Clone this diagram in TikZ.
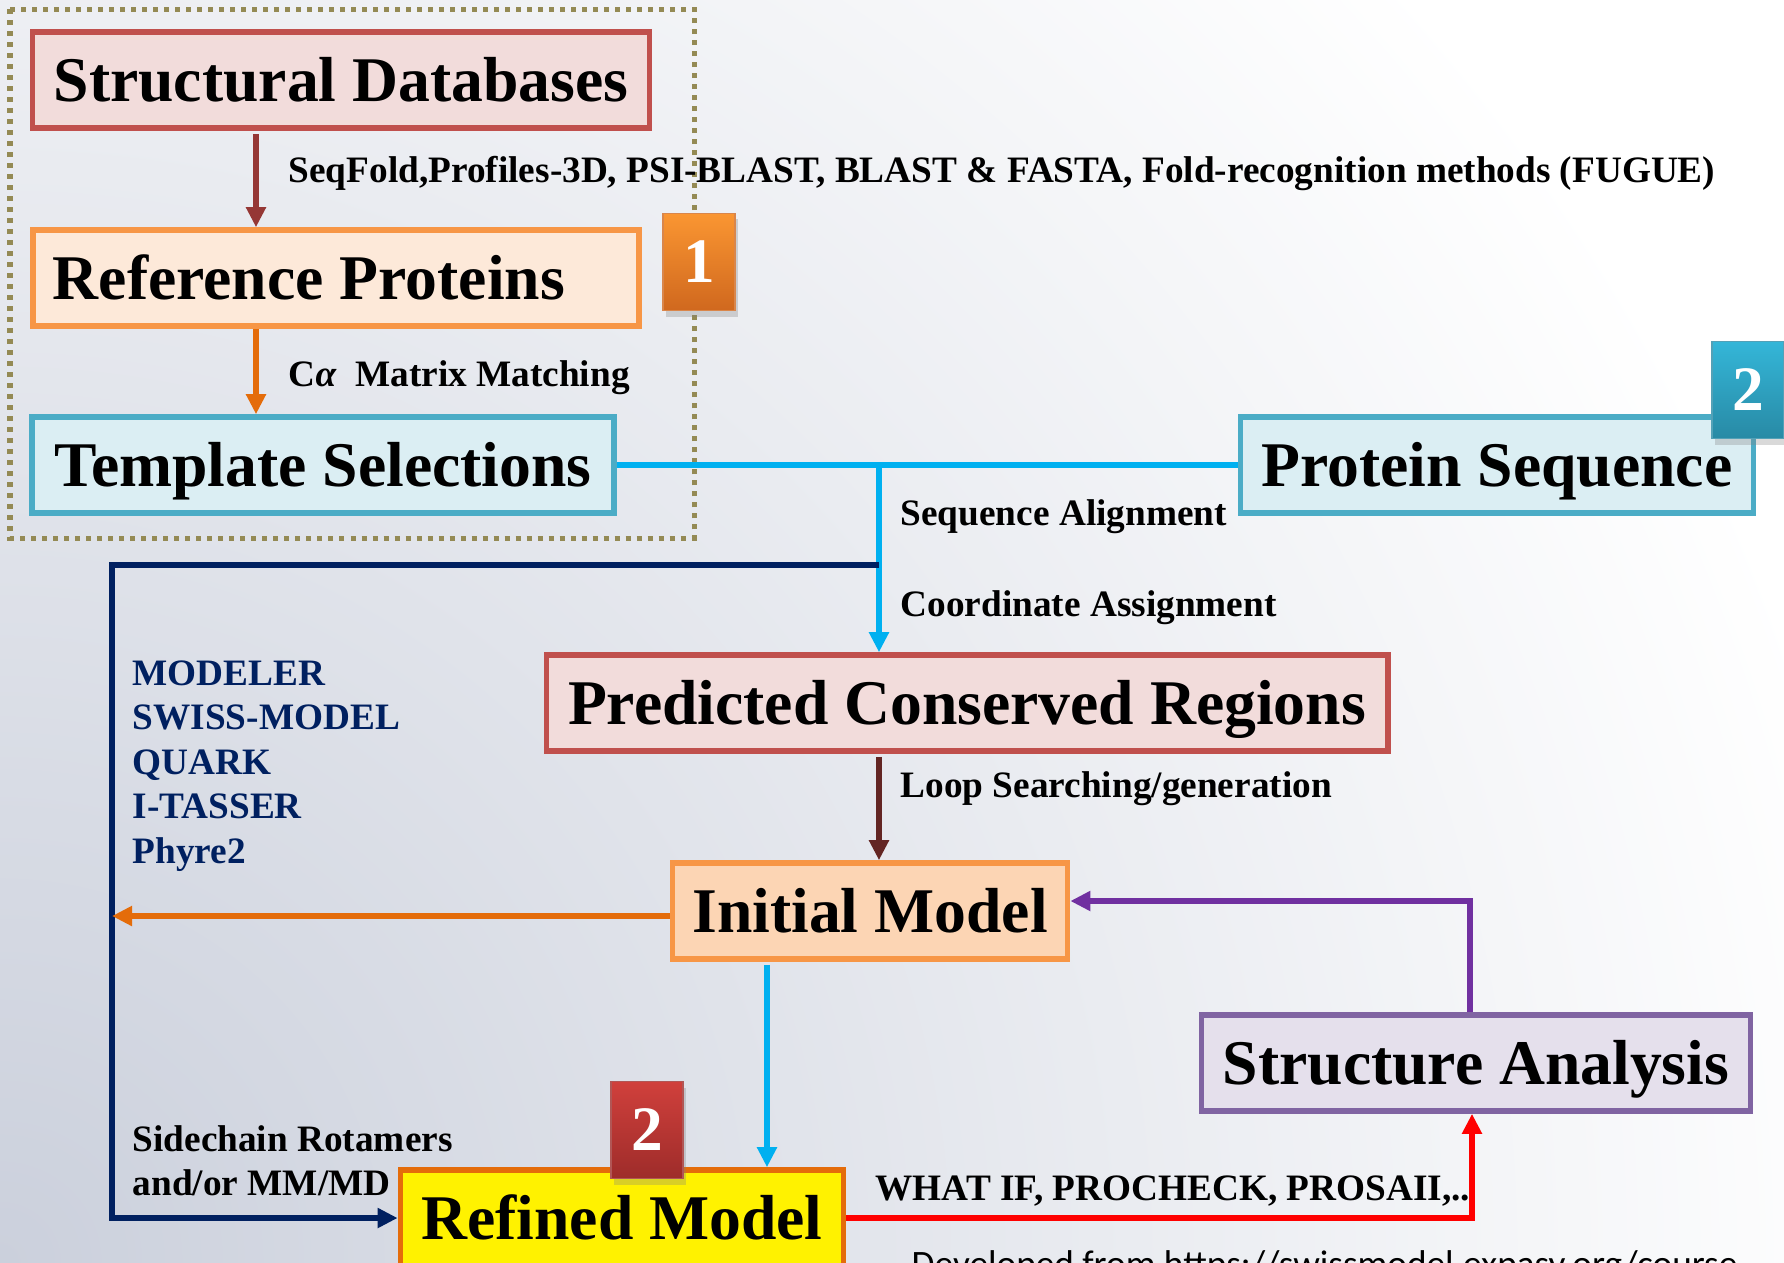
\documentclass[tikz,border=0pt]{standalone}
\usepackage{fontspec}
\setmainfont{Liberation Serif}
\newfontfamily\notefont{Carlito}
\usetikzlibrary{arrows.meta, shadows}

\definecolor{bgdark}{RGB}{203,208,220}
\definecolor{sdfill}{HTML}{F2DCDB}
\definecolor{sdline}{HTML}{C0504D}
\definecolor{rpfill}{HTML}{FDE9D9}
\definecolor{rpline}{HTML}{F79646}
\definecolor{tsfill}{HTML}{DBEEF3}
\definecolor{tsline}{HTML}{4BACC6}
\definecolor{imfill}{HTML}{FCD5B4}
\definecolor{safill}{HTML}{E5E0EC}
\definecolor{saline}{HTML}{8064A2}
\definecolor{rmline}{HTML}{E46C0A}
\definecolor{dbarrow}{HTML}{953735}
\definecolor{bluec}{HTML}{00B0F0}
\definecolor{navyc}{HTML}{002060}
\definecolor{brownc}{HTML}{632523}
\definecolor{purplec}{HTML}{7030A0}
\definecolor{dotc}{HTML}{948A54}
\definecolor{orgtop}{RGB}{250,150,50}
\definecolor{orgbot}{RGB}{208,104,30}
\definecolor{tealtop}{RGB}{52,182,216}
\definecolor{tealbot}{RGB}{40,138,165}
\definecolor{redtop}{RGB}{208,64,60}
\definecolor{redbot}{RGB}{158,44,42}

\tikzset{%
  % Specifications for style of nodes:
         base/.style = {rectangle, line width=0.055cm, inner xsep=0.1cm, inner ysep=0.05cm, minimum height=0.96cm, text height=0.62cm, text depth=0.2cm, font=\bfseries\fontsize{18.1}{20}\selectfont},
       redbox/.style = {base, draw=sdline, fill=sdfill},
     peachbox/.style = {base, draw=rpline, fill=rpfill},
      bluebox/.style = {base, draw=tsline, fill=tsfill},
    orangebox/.style = {base, draw=rpline, fill=imfill},
    purplebox/.style = {base, draw=saline, fill=safill},
    yellowbox/.style = {base, draw=rmline, fill=yellow},
        badge/.style = {rectangle, minimum width=0.72cm, minimum height=0.97cm, inner sep=0, text=white, font=\bfseries\fontsize{18}{20}\selectfont, drop shadow={opacity=0.3, shadow xshift=0.03cm, shadow yshift=-0.06cm}},
          lbl/.style = {anchor=base west, inner sep=0, font=\bfseries\fontsize{10.6}{12.7}\selectfont},
     toollbl/.style = {lbl, text=navyc},
          arr/.style = {-{Triangle[length=0.2cm, width=0.19cm]}, line width=0.06cm},
}

\begin{document}
\begin{tikzpicture}[x=0.01cm, y=-0.01cm]
    \useasboundingbox (0,0) rectangle (1784,1262);
    \clip (0,0) rectangle (1784,1262);
    \shade[inner color=bgdark, outer color=white] (0,1262) circle (19cm);

    % Draw nodes
    \draw[dotc, line width=0.05cm, dash pattern=on 0.05cm off 0.06cm] (10,9) rectangle (694,538);

    \node (sd)  [redbox, minimum width=6.17cm]    at (341,80)   {Structural Databases};
    \node (rp)  [peachbox, minimum width=6.06cm]  at (336,278)  {\makebox[5.66cm][l]{Reference Proteins}};
    \node (ts)  [bluebox, minimum width=5.82cm]   at (323,465)  {Template Selections};
    \node (ps)  [bluebox, minimum width=5.13cm]   at (1497,465) {Protein Sequence};
    \node (pcr) [redbox, minimum width=8.41cm]    at (967,703)  {Predicted Conserved Regions};
    \node (im)  [orangebox, minimum width=3.95cm] at (870,911)  {Initial Model};
    \node (sa)  [purplebox, minimum width=5.49cm] at (1476,1063) {Structure Analysis};
    \node (rm)  [yellowbox, minimum width=4.43cm] at (622,1218) {Refined Model};

    % Draw arrows
    \coordinate (colA)    at (256,0);
    \coordinate (colB)    at (879,0);
    \coordinate (colC)    at (767,0);
    \coordinate (jn)      at (879,465);
    \coordinate (navtop)  at (879,565);
    \coordinate (navleft) at (112,565);

    \draw[arr, dbarrow]  ([yshift=-0.03cm]sd.south -| colA) -- (rp.north -| colA);
    \draw[arr, rmline]   (rp.south -| colA) -- (ts.north -| colA);
    \draw[line width=0.06cm, bluec] (ts.east) -- (ps.west);
    \draw[arr, bluec]    (jn) -- (pcr.north -| jn);
    \draw[arr, navyc, line width=0.065cm] (navtop) -- (navleft) |- (rm.west);
    \draw[arr, brownc]   ([yshift=-0.03cm]pcr.south -| colB) -- (im.north -| colB);
    \draw[arr, rmline]   ([yshift=-0.05cm]im.west) -- ([yshift=-0.05cm]im.west -| navleft);
    \draw[arr, bluec]    ([yshift=-0.03cm]im.south -| colC) -- (rm.north -| colC);
    \draw[arr, purplec]  ([xshift=-0.06cm]sa.north) |- ([yshift=0.1cm]im.east);
    \draw[arr, red]      (rm.east) -| ([xshift=-0.04cm]sa.south);

    % Badges
    \node (b1) [badge, draw=orgbot!80, top color=orgtop, bottom color=orgbot]   at (699,262)  {1};
    \node (b2) [badge, draw=tealbot!80, top color=tealtop, bottom color=tealbot] at (1748,390) {2};
    \node (b3) [badge, draw=redbot!80, top color=redtop, bottom color=redbot]   at (647,1130) {2};

    % Labels
    \node (l1) [lbl] at (288,182) {SeqFold,Profiles-3D, PSI-BLAST, BLAST \& FASTA, Fold-recognition methods (FUGUE)};
    \node (l2) [lbl] at (288,386) {C\textit{α}\ \ Matrix Matching};
    \node (l3) [lbl] at (900,525) {Sequence Alignment};
    \node (l4) [lbl] at (900,616) {Coordinate Assignment};
    \node (l5) [lbl] at (900,797) {Loop Searching/generation};
    \node (l6) [lbl] at (132,1151) {Sidechain Rotamers};
    \node (l7) [lbl] at (132,1195) {and/or MM/MD};
    \node (l8) [lbl] at (875,1200) {WHAT IF, PROCHECK, PROSAII,..};
    \foreach \tool [count=\i] in {MODELER, SWISS-MODEL, QUARK, I-TASSER, Phyre2}
        \node (tool\i) [toollbl] at (132,640.5+44.5*\i) {\tool};

    \node (src) [anchor=base west, inner sep=0, font=\notefont\fontsize{10.6}{13}\selectfont] at (911,1276) {Developed from https://swissmodel.expasy.org/course};
\end{tikzpicture}
\end{document}
